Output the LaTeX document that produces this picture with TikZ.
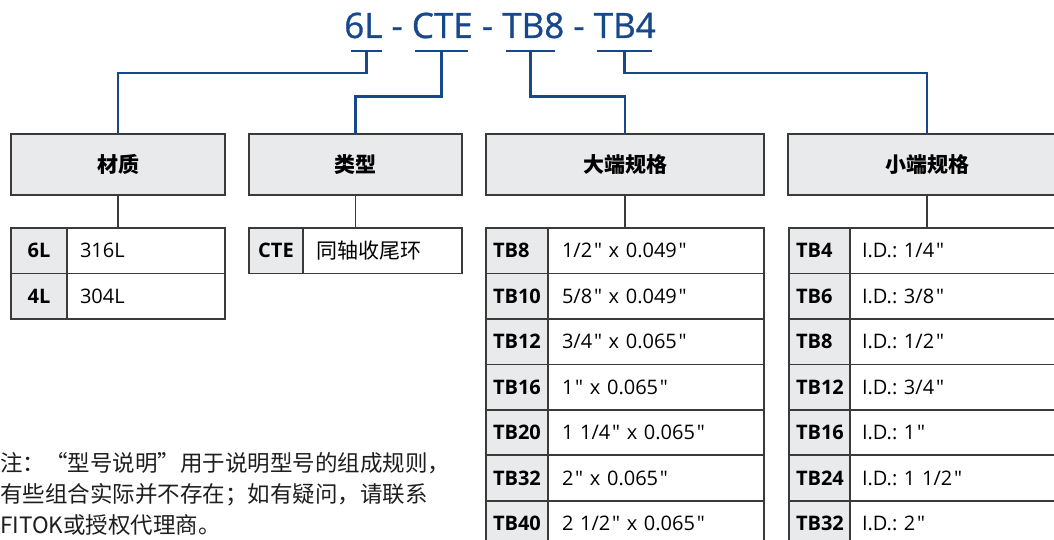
\documentclass[tikz,border=0pt]{standalone}
\usepackage{fontspec}
\newfontfamily\lat{Open Sans}
\newfontfamily\titlefont{Open Sans}[FakeBold=0.9]
\newfontfamily\cjk{Noto Sans CJK SC}
\definecolor{codeblue}{RGB}{24,72,140}
\definecolor{edge}{RGB}{58,58,58}
\definecolor{cellfill}{RGB}{233,234,236}
\definecolor{notetext}{RGB}{30,30,30}
\newcommand\inchmark{\kern1.8pt"}
\frenchspacing
\begin{document}
\begin{tikzpicture}[x=1pt,y=-1pt,
  hdr/.style={draw=edge, fill=cellfill, line width=1.8, outer sep=0, minimum height=61, inner sep=0, font=\cjk\bfseries\fontsize{21}{24}\selectfont},
  cellbase/.style={draw=edge, line width=1.6, outer sep=0, inner ysep=0, minimum height=45.45, align=left, anchor=north west},
  lab/.style={cellbase, fill=cellfill, font=\lat\bfseries\fontsize{20}{24}\selectfont},
  val/.style={cellbase, fill=white, font=\lat\fontsize{20}{24}\selectfont},
  labc/.style={lab, inner xsep=0, text width=#1, align=center},
  labl/.style={lab, inner xsep=7, text width=#1},
  valw/.style={val, inner xsep=13, text width=#1},
  blueline/.style={draw=codeblue, line width=2.4},
  grayline/.style={draw=edge, line width=1.4},
  cjkcell/.style={font=\cjk\fontsize{21}{24}\selectfont},
]
\useasboundingbox (0,0) rectangle (1054,540);

% title
\node[font=\titlefont\fontsize{35}{40}\selectfont, text=codeblue, inner sep=0, anchor=base] (title) at (500,38) {6L - CTE - TB8 - TB4};

% header boxes
\node[hdr, minimum width=214] (mat) at (118,164.5) {材质};
\node[hdr, minimum width=213] (typ) at (355.5,164.5) {类型};
\node[hdr, minimum width=278] (big) at (625,164.5) {大端规格};
\node[hdr, minimum width=278] (small) at (927,164.5) {小端规格};

% material table
\node[labc=56] (m1l) at (11,228) {6L};
\node[valw=132] (m1v) at (m1l.north east) {316L};
\node[labc=56] (m2l) at (m1l.south west) {4L};
\node[valw=132] (m2v) at (m2l.north east) {304L};

% type table
\node[labc=54] (t1l) at (249,228) {CTE};
\node[valw=133, cjkcell] (t1v) at (t1l.north east) {同轴收尾环};

% big end table
\node[labl=48] (b1l) at (486,228) {TB8};
\node[valw=188, inner xsep=14] (b1v) at (b1l.north east) {1/2\inchmark{} x 0.049\inchmark};
\node[labl=48] (b2l) at (b1l.south west) {TB10};
\node[valw=188, inner xsep=14] (b2v) at (b2l.north east) {5/8\inchmark{} x 0.049\inchmark};
\node[labl=48] (b3l) at (b2l.south west) {TB12};
\node[valw=188, inner xsep=14] (b3v) at (b3l.north east) {3/4\inchmark{} x 0.065\inchmark};
\node[labl=48] (b4l) at (b3l.south west) {TB16};
\node[valw=188, inner xsep=14] (b4v) at (b4l.north east) {1\inchmark{} x 0.065\inchmark};
\node[labl=48] (b5l) at (b4l.south west) {TB20};
\node[valw=188, inner xsep=14] (b5v) at (b5l.north east) {1 1/4\inchmark{} x 0.065\inchmark};
\node[labl=48] (b6l) at (b5l.south west) {TB32};
\node[valw=188, inner xsep=14] (b6v) at (b6l.north east) {2\inchmark{} x 0.065\inchmark};
\node[labl=48] (b7l) at (b6l.south west) {TB40};
\node[valw=188, inner xsep=14] (b7v) at (b7l.north east) {2 1/2\inchmark{} x 0.065\inchmark};

% small end table
\node[labl=47] (s1l) at (789,228) {TB4};
\node[valw=193, inner xsep=12] (s1v) at (s1l.north east) {I.D.: 1/4\inchmark};
\node[labl=47] (s2l) at (s1l.south west) {TB6};
\node[valw=193, inner xsep=12] (s2v) at (s2l.north east) {I.D.: 3/8\inchmark};
\node[labl=47] (s3l) at (s2l.south west) {TB8};
\node[valw=193, inner xsep=12] (s3v) at (s3l.north east) {I.D.: 1/2\inchmark};
\node[labl=47] (s4l) at (s3l.south west) {TB12};
\node[valw=193, inner xsep=12] (s4v) at (s4l.north east) {I.D.: 3/4\inchmark};
\node[labl=47] (s5l) at (s4l.south west) {TB16};
\node[valw=193, inner xsep=12] (s5v) at (s5l.north east) {I.D.: 1\inchmark};
\node[labl=47] (s6l) at (s5l.south west) {TB24};
\node[valw=193, inner xsep=12] (s6v) at (s6l.north east) {I.D.: 1 1/2\inchmark};
\node[labl=47] (s7l) at (s6l.south west) {TB32};
\node[valw=193, inner xsep=12] (s7v) at (s7l.north east) {I.D.: 2\inchmark};

% gray connectors
\draw[grayline] (mat.south) -- (mat.south |- m1v.north);
\draw[grayline] (typ.south) -- (typ.south |- t1v.north);
\draw[grayline] (big.south) -- (big.south |- b1v.north);
\draw[grayline] (small.south) -- (small.south |- s1v.north);

% blue code brackets
\coordinate (u1a) at (351,51);   \coordinate (u1b) at (382,51);   \coordinate (u1m) at (366.5,51);
\coordinate (u2a) at (415,51);   \coordinate (u2b) at (468,51);   \coordinate (u2m) at (441.5,51);
\coordinate (u3a) at (506,51);   \coordinate (u3b) at (555,51);   \coordinate (u3m) at (530.5,51);
\coordinate (u4a) at (597,51);   \coordinate (u4b) at (652,51);   \coordinate (u4m) at (624.5,51);
\draw[blueline] (u1a) -- (u1b);
\draw[blueline] (u2a) -- (u2b);
\draw[blueline] (u3a) -- (u3b);
\draw[blueline] (u4a) -- (u4b);
\draw[blueline] (u1m) -- ++(0,22) -| (mat.north);
\draw[blueline] (u2m) -- ++(0,45.5) -| (typ.north);
\draw[blueline] (u3m) -- ++(0,45.5) -| (big.north);
\draw[blueline] (u4m) -- ++(0,22) -| (small.north);

% note
\node[anchor=north west, align=left, inner sep=0, text=notetext, font=\cjk\fontsize{22.5}{31}\selectfont] (note) at (0,452) {注：“型号说明”用于说明型号的组成规则，\\有些组合实际并不存在；如有疑问，请联系\\FITOK或授权代理商。};
\end{tikzpicture}
\end{document}
